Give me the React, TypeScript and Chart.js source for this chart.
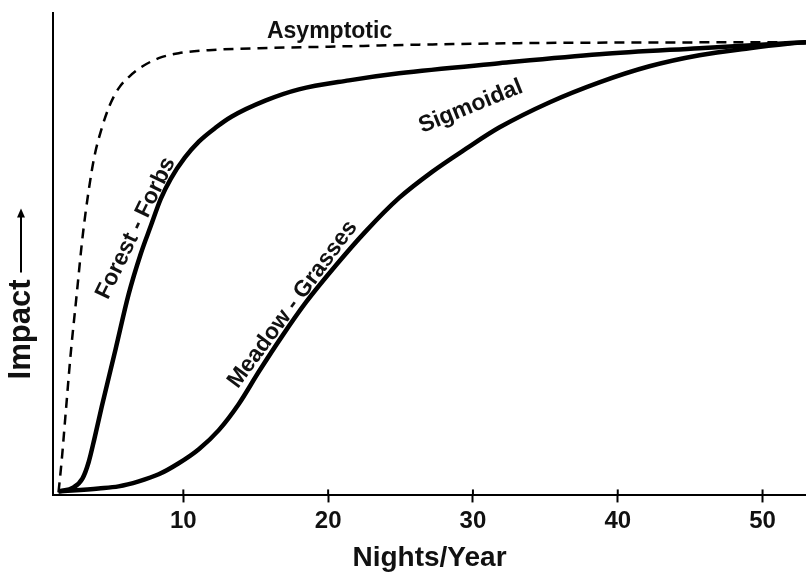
import React, { useEffect, useRef } from "react";
import { Chart, registerables } from "chart.js";

Chart.register(...registerables);

// ---- data (x = nights/year, y = relative impact 0..100) ----
const xTicks = [10, 20, 30, 40, 50];

const asymptoticX = [1.38, 1.59, 1.87, 2.21, 2.63, 3.04, 3.46, 3.87, 4.36, 4.91, 5.53, 6.29, 7.19, 8.3, 9.68, 11.76, 15.21, 20.06, 26.28, 33.2, 53];
const asymptoticY = [0.63, 6.88, 16.88, 28.96, 41.46, 53.54, 63.13, 70.42, 76.04, 80.83, 84.38, 86.88, 88.96, 90.63, 91.67, 92.29, 92.71, 93.02, 93.44, 93.75, 93.96];

const forestX = [1.38, 2.42, 3.04, 3.46, 3.87, 4.36, 5.33, 6.22, 7.05, 7.75, 8.44, 9.13, 10.1, 11.07, 12.24, 13.35, 15.7, 17.98, 21.44, 24.9, 31.81, 38.73, 45.64, 50.48, 53];
const forestY = [0.83, 1.67, 3.54, 6.88, 11.88, 18.33, 30.42, 41.67, 50.0, 55.83, 61.46, 65.63, 70.0, 73.33, 76.25, 78.54, 81.88, 84.17, 86.04, 87.5, 89.58, 91.46, 92.71, 93.54, 93.96];

const meadowX = [1.38, 4.15, 5.53, 6.92, 8.3, 9.68, 11.07, 12.45, 13.83, 15.21, 16.8, 18.46, 20.54, 22.61, 24.9, 27.18, 29.53, 31.81, 35.27, 38.73, 42.19, 45.64, 49.1, 51.87, 53];
const meadowY = [0.83, 1.46, 1.88, 2.92, 4.38, 6.67, 9.58, 13.54, 18.96, 25.63, 32.92, 40.0, 47.71, 54.79, 61.67, 67.08, 71.88, 76.25, 81.46, 85.63, 88.96, 91.25, 92.71, 93.65, 93.96];

// curve annotations: text, anchor in data units, rotation in degrees
const labelTexts = ["Asymptotic", "Forest - Forbs", "Meadow - Grasses", "Sigmoidal"];
const labelX = [20.1, 6.72, 17.55, 29.85];
const labelY = [96.2, 55.4, 39.6, 80.6];
const labelAngles = [0, -64, -53.5, -22];

const xTitle = "Nights/Year";
const yTitle = "Impact";

const FONT = "'Liberation Sans', Arial, Helvetica, sans-serif";

const toPoints = (xs: number[], ys: number[]) => xs.map((v, i) => ({ x: v, y: ys[i] }));

const annotationPlugin = {
  id: "curveAnnotations",
  afterDatasetsDraw(chart: any) {
    const { ctx, chartArea } = chart;
    const xs = chart.scales.x;
    const ys = chart.scales.y;
    ctx.save();

    // tick stubs above the axis line (ticks cross the axis)
    ctx.strokeStyle = "#000";
    ctx.lineWidth = 2;
    xs.ticks.forEach((_t: any, i: number) => {
      const px = xs.getPixelForTick(i);
      ctx.beginPath();
      ctx.moveTo(px, chartArea.bottom);
      ctx.lineTo(px, chartArea.bottom - 6);
      ctx.stroke();
    });

    // curve labels
    ctx.fillStyle = "#111";
    ctx.textAlign = "center";
    ctx.textBaseline = "middle";
    ctx.font = `bold 23px ${FONT}`;
    labelTexts.forEach((txt, i) => {
      const px = xs.getPixelForValue(labelX[i]);
      const py = ys.getPixelForValue(labelY[i]);
      ctx.save();
      ctx.translate(px, py);
      ctx.rotate((labelAngles[i] * Math.PI) / 180);
      ctx.fillText(txt, 0, 0);
      ctx.restore();
    });

    // y-axis title with arrow
    const tx = chartArea.left - 32;
    const ty = ys.getPixelForValue(34.4);
    ctx.font = `bold 31px ${FONT}`;
    const w = ctx.measureText(yTitle).width;
    ctx.save();
    ctx.translate(tx, ty);
    ctx.rotate(-Math.PI / 2);
    ctx.fillText(yTitle, 0, 0);
    ctx.restore();
    const arrowBottom = ty - w / 2 - 7;
    const arrowTop = arrowBottom - 64;
    ctx.beginPath();
    ctx.moveTo(tx, arrowBottom);
    ctx.lineTo(tx, arrowTop + 6);
    ctx.lineWidth = 2;
    ctx.stroke();
    ctx.beginPath();
    ctx.moveTo(tx, arrowTop);
    ctx.lineTo(tx - 4, arrowTop + 9);
    ctx.lineTo(tx + 4, arrowTop + 9);
    ctx.closePath();
    ctx.fillStyle = "#000";
    ctx.fill();

    ctx.restore();
  },
};

export default function App() {
  const canvasRef = useRef<HTMLCanvasElement | null>(null);

  useEffect(() => {
    if (!canvasRef.current) return;
    const chart = new Chart(canvasRef.current, {
      type: "line",
      data: {
        datasets: [
          {
            label: "Asymptotic",
            data: toPoints(asymptoticX, asymptoticY),
            borderColor: "#000",
            borderWidth: 2.5,
            borderDash: [10, 7],
            pointRadius: 0,
            cubicInterpolationMode: "monotone",
            fill: false,
          },
          {
            label: "Forest - Forbs",
            data: toPoints(forestX, forestY),
            borderColor: "#000",
            borderWidth: 4.5,
            pointRadius: 0,
            cubicInterpolationMode: "monotone",
            fill: false,
          },
          {
            label: "Meadow - Grasses",
            data: toPoints(meadowX, meadowY),
            borderColor: "#000",
            borderWidth: 4.5,
            pointRadius: 0,
            cubicInterpolationMode: "monotone",
            fill: false,
          },
        ],
      },
      options: {
        animation: false,
        responsive: false,
        layout: { padding: { left: 53, top: 13, right: 0, bottom: 0 } },
        plugins: { legend: { display: false }, tooltip: { enabled: false } },
        scales: {
          x: {
            type: "linear",
            min: 1,
            max: 53,
            afterBuildTicks: (scale: any) => {
              scale.ticks = xTicks.map((v) => ({ value: v }));
            },
            grid: {
              drawOnChartArea: false,
              drawTicks: true,
              tickLength: 7,
              tickWidth: 2,
              color: "#000",
            },
            border: { display: true, color: "#000", width: 2 },
            ticks: {
              padding: 5,
              color: "#111",
              font: { family: FONT, size: 24, weight: "bold" },
            },
            title: {
              display: true,
              text: xTitle,
              color: "#111",
              font: { family: FONT, size: 28, weight: "bold", lineHeight: 1.17 },
              padding: { top: 1, bottom: -3 },
            },
          },
          y: {
            min: 0,
            max: 100,
            grid: { display: false, drawTicks: false },
            ticks: { display: false },
            border: { display: true, color: "#000", width: 2 },
          },
        },
      },
      plugins: [annotationPlugin],
    } as any);
    return () => chart.destroy();
  }, []);

  return (
    <div style={{ position: "absolute", left: 0, top: 0, width: 806, height: 572, background: "#fff" }}>
      <canvas ref={canvasRef} width={806} height={572} style={{ display: "block" }} />
    </div>
  );
}
